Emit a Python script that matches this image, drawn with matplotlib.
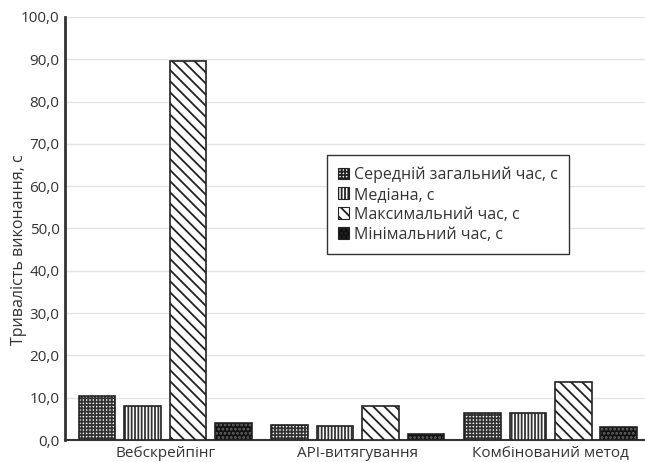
import numpy as np
import matplotlib.pyplot as plt
from matplotlib.ticker import FuncFormatter

plt.rcParams['font.family'] = ['Open Sans', 'DejaVu Sans']
plt.rcParams['hatch.linewidth'] = 1.3

# Data
methods = ['Вебскрейпінг', 'API-витягування', 'Комбінований метод']
mean_time = [10.4, 3.5, 6.4]
median_time = [8.0, 3.2, 6.3]
max_time = [89.6, 8.0, 13.8]
min_time = [4.0, 1.5, 3.0]
series_labels = ['Середній загальний час, с', 'Медіана, с',
                 'Максимальний час, с', 'Мінімальний час, с']

fig = plt.figure(figsize=(6.45, 4.62), dpi=100)
ax = fig.add_axes([65 / 645, 22 / 462, 1 - 65 / 645, 423 / 462])

x = np.arange(len(methods))
w = 0.19
step = 0.236
series = [mean_time, median_time, max_time, min_time]
hatches = ['+++++', '|||||', '\\\\\\', '....']
faces = ['white', 'white', 'white', '#111111']
hatch_cols = ['#333333', '#333333', '#222222', '#666666']

handles = []
for i, vals in enumerate(series):
    pos = x + (i - 1.5) * step
    ax.bar(pos, vals, w, color=faces[i], edgecolor=hatch_cols[i],
           hatch=hatches[i], linewidth=0, zorder=3)
    ax.bar(pos, vals, w, color='none', edgecolor='#222222',
           linewidth=1.2, zorder=4)
    handles.append(ax.bar([0], [0], 0, color=faces[i], edgecolor='#222222',
                          hatch=hatches[i], linewidth=0.8))

ax.set_ylim(0, 100)
ax.set_xlim(-0.52, 2.49)
ax.set_yticks(np.arange(0, 101, 10))
ax.yaxis.set_major_formatter(FuncFormatter(lambda v, p: f'{v:.1f}'.replace('.', ',')))
ax.set_xticks(x)
ax.set_xticklabels(methods)
ax.tick_params(axis='both', length=0, labelsize=11, colors='#333333', pad=4)
ax.grid(axis='y', color='#e3e3e3', linewidth=1.0, zorder=0)
ax.set_axisbelow(True)

for s in ['top', 'right']:
    ax.spines[s].set_visible(False)
ax.spines['left'].set_linewidth(2.0)
ax.spines['left'].set_color('#333333')
ax.spines['bottom'].set_linewidth(1.5)
ax.spines['bottom'].set_color('#333333')

ax.set_ylabel('Тривалість виконання, с', fontsize=11.5, color='#333333')
ax.yaxis.set_label_coords(-0.065, 0.45)

leg = ax.legend(handles, series_labels, loc='upper left',
                bbox_to_anchor=((327 - 65) / 580, (445 - 160) / 423),
                borderaxespad=0, fontsize=11.5, frameon=True, fancybox=False,
                handlelength=0.7, handleheight=0.7, handletextpad=0.3,
                labelspacing=0.25, borderpad=0.7, framealpha=1)
leg.get_frame().set_edgecolor('#333333')
leg.get_frame().set_linewidth(1.0)
for t in leg.get_texts():
    t.set_color('#333333')

fig.savefig('out.png', dpi=100)
